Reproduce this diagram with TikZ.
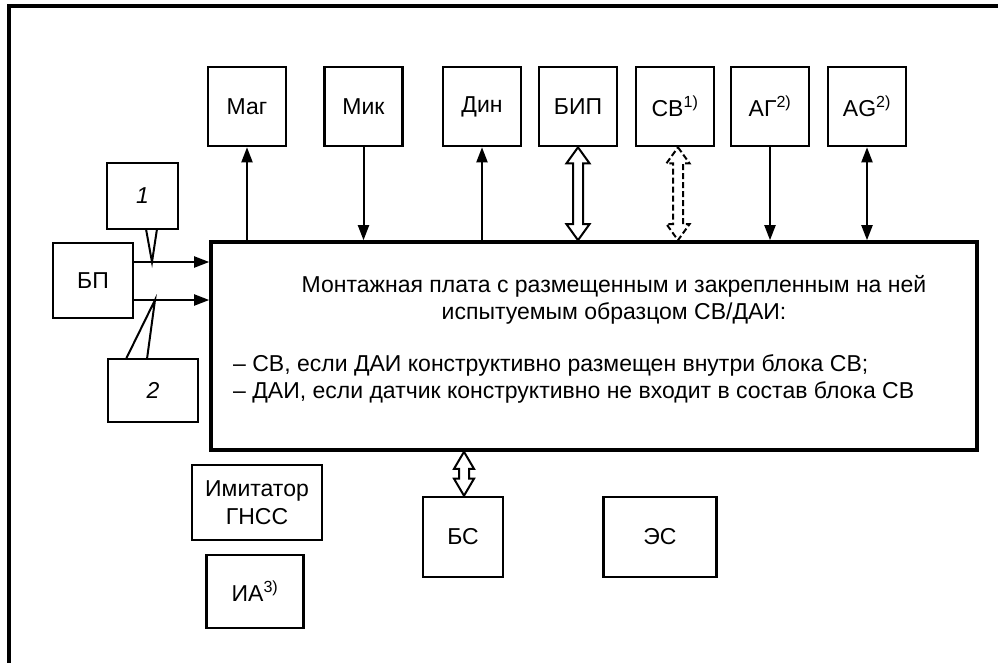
\documentclass[tikz,border=0pt]{standalone}
\usepackage{fontspec}
\setmainfont{Liberation Sans}
\usetikzlibrary{arrows.meta,calc}
\tikzset{
  box/.style={draw, line width=2.6pt, inner sep=0pt, align=center,
    font=\fontsize{23}{28}\selectfont},
  sq/.style={box, minimum width=78pt, minimum height=79pt},
  mainbox/.style={draw, line width=3.6pt, inner sep=0pt},
  txt/.style={inner sep=0pt, font=\fontsize{23}{26.5}\selectfont},
  conn/.style={line width=2pt},
  tipe/.style={-{Triangle[length=15pt,width=11pt]}},
  tipb/.style={{Triangle[length=15pt,width=11pt]}-{Triangle[length=15pt,width=11pt]}},
  hollow/.style={line width=2pt, fill=white, line join=miter},
  frame/.style={line width=4pt}
}
\newcommand\hollowarrow[5]{% style, top, bottom, half head width, head length
  \draw[#1] let \p1=(#2), \p2=(#3) in
    (\x1,\y1) -- (\x1+#4,\y1-#5) -- (\x1+5pt,\y1-#5) -- (\x1+5pt,\y2+#5)
    -- (\x1+#4,\y2+#5) -- (\x1,\y2) -- (\x1-#4,\y2+#5) -- (\x1-5pt,\y2+#5)
    -- (\x1-5pt,\y1-#5) -- (\x1-#4,\y1-#5) -- cycle;}
\begin{document}
\begin{tikzpicture}[x=1pt,y=-1pt]
\useasboundingbox (0,0) rectangle (998,662);
\fill[white] (0,0) rectangle (998,662);
% frame
\draw[frame] (9,664) -- (9,6) -- (1000,6);
% main board
\node[mainbox, minimum width=766pt, minimum height=208pt] (main) at (594,346) {};
\node[txt, align=center] (t1) at (614,300) {Монтажная плата с размещенным и закрепленным на ней\\испытуемым образцом СВ/ДАИ:};
\node[txt, align=left, anchor=west] (t2) at (233,379) {– СВ, если ДАИ конструктивно размещен внутри блока СВ;\\– ДАИ, если датчик конструктивно не входит в состав блока СВ};
% top boxes
\node[sq] (mag) at (247,106.5) {Маг};
\node[sq] (mik) at (363.5,106.5) {Мик};
\node[sq] (din) at (482,106.5) {Дин};
\node[sq] (bip) at (578,106.5) {БИП};
\node[sq] (cv) at (675,106.5) {СВ\textsuperscript{1)}};
\node[sq] (ag) at (770,106.5) {АГ\textsuperscript{2)}};
\node[sq] (agg) at (867,106.5) {AG\textsuperscript{2)}};
% top connectors
\draw[conn,tipe] (main.north -| mag.south) -- (mag.south);
\draw[conn,tipe] (mik.south) -- (main.north -| mik.south);
\draw[conn,tipe] (main.north -| din.south) -- (din.south);
\hollowarrow{hollow}{bip.south}{main.north -| bip.south}{11.5pt}{16pt}
\coordinate (cvs) at ([xshift=3pt]cv.south);
\hollowarrow{hollow,dashed,dash pattern=on 6pt off 3pt}{cvs}{main.north -| cvs}{11.5pt}{16pt}
\draw[conn,tipe] (ag.south) -- (main.north -| ag.south);
\draw[conn,tipb] (agg.south) -- (main.north -| agg.south);
% left side
\node[box, minimum width=80pt, minimum height=75pt] (bp) at (93,280.5) {БП};
\node[box, minimum width=71pt, minimum height=66pt] (b1) at (142.5,196) {\itshape 1};
\node[box, minimum width=90pt, minimum height=63pt] (b2) at (153,390.5) {\itshape 2};
\coordinate (j1) at (152,262);
\coordinate (j2) at (155,300);
\draw[conn,tipe] (bp.east |- j1) -- (main.west |- j1);
\draw[conn,tipe] (bp.east |- j2) -- (main.west |- j2);
\coordinate (b1a) at (146,229);
\coordinate (b1b) at (157,229);
\draw[conn] (b1a) -- (j1) -- (b1b);
\coordinate (b2a) at (126,359);
\coordinate (b2b) at (147,359);
\draw[conn] (b2a) -- (j2) -- (b2b);
% bottom
\node[box, minimum width=130pt, minimum height=75pt] (imit) at (257,502.5) {Имитатор\\ГНСС};
\node[box, minimum width=97pt, minimum height=73pt] (ia) at (255,591.5) {ИА\textsuperscript{3)}};
\node[box, minimum width=80pt, minimum height=80pt] (bs) at (463,537) {БС};
\node[box, minimum width=113pt, minimum height=80pt] (es) at (660,537) {ЭС};
\coordinate (bst) at ([xshift=1pt]bs.north);
\hollowarrow{hollow}{main.south -| bst}{bst}{10pt}{17pt}
\end{tikzpicture}
\end{document}
